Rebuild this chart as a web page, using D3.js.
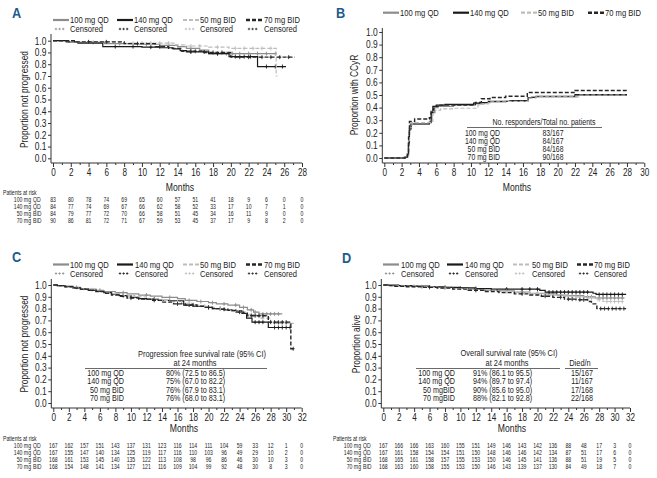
<!DOCTYPE html>
<html><head><meta charset="utf-8">
<script src="https://cdn.jsdelivr.net/npm/d3@7"></script>
<style>body{margin:0;background:#fff}svg{display:block}</style>
</head><body>
<script>
// ---------- DATA ----------
const seriesNames = ["100 mg QD","140 mg QD","50 mg BID","70 mg BID"];
const yTickVals = [0,0.1,0.2,0.3,0.4,0.5,0.6,0.7,0.8,0.9,1.0];

// Panel A: progression (0-28 months)
const kmA100t = [1.8, 3.0, 5.8, 9.0, 12.0, 14.0, 15.0, 16.5, 17.5];
const kmA100s = [0.99, 0.985, 0.975, 0.97, 0.96, 0.95, 0.935, 0.92, 0.89];
const kmA100c = [4.5, 7.5, 10.5, 13.0, 15.5, 18.5, 19.5, 20.2, 21.0, 22.0, 23.0, 24.0, 25.0];
const kmA140t = [1.5, 2.8, 5.6, 10.0, 12.0, 13.5, 14.3, 15.0, 17.5, 19.8, 23.0];
const kmA140s = [0.99, 0.98, 0.95, 0.945, 0.94, 0.93, 0.915, 0.905, 0.89, 0.865, 0.78];
const kmA140c = [7.0, 9.0, 11.0, 15.5, 17.0, 18.5, 20.5, 21.5, 22.2, 24.0, 25.0, 25.8];
const kmA50t = [2.0, 8.0, 13.8, 14.8, 17.5, 19.8, 25.1];
const kmA50s = [0.99, 0.98, 0.965, 0.955, 0.945, 0.935, 0.70];
const kmA50c = [4.0, 6.0, 9.0, 10.0, 11.0, 12.0, 13.0, 15.5, 16.5, 18.5, 20.5, 21.5, 22.5, 23.5, 24.5];
const kmA70t = [2.5, 8.0, 11.5, 13.0, 14.5, 17.0, 20.0];
const kmA70s = [0.99, 0.975, 0.95, 0.935, 0.91, 0.90, 0.86];
const kmA70c = [4.0, 6.0, 9.5, 12.0, 15.5, 16.0, 18.0, 19.0, 21.0, 22.0, 23.5, 24.5, 25.5, 26.5];
const kmAEnd = [25.2, 26.2, 25.25, 27.2];

// Panel B: cumulative CCyR (0-30 months)
const ciB100t = [2.3, 2.6, 2.75, 2.85, 3.0, 5.2, 5.5, 5.8, 6.2, 8.0, 10.5, 11.5, 12.2, 14.0, 16.6, 17.0, 22.2];
const ciB100s = [0.006, 0.02, 0.10, 0.22, 0.27, 0.29, 0.36, 0.40, 0.41, 0.42, 0.43, 0.44, 0.445, 0.45, 0.475, 0.485, 0.497];
const ciB140t = [2.4, 2.7, 2.8, 2.9, 3.1, 5.2, 5.4, 5.6, 6.0, 7.0, 10.3, 11.0, 12.0, 14.5, 16.6, 17.5, 22.0];
const ciB140s = [0.006, 0.02, 0.12, 0.23, 0.27, 0.28, 0.36, 0.41, 0.42, 0.425, 0.435, 0.44, 0.45, 0.455, 0.48, 0.49, 0.503];
const ciB50t = [2.2, 2.6, 2.75, 2.9, 3.2, 5.3, 5.6, 5.9, 6.5, 8.0, 10.8, 11.2, 12.0, 14.0, 16.6, 17.5, 22.5];
const ciB50s = [0.006, 0.02, 0.12, 0.24, 0.28, 0.29, 0.35, 0.38, 0.39, 0.395, 0.42, 0.43, 0.445, 0.45, 0.475, 0.485, 0.50];
const ciB70t = [2.4, 2.65, 2.8, 2.9, 3.5, 5.2, 5.4, 5.7, 6.2, 10.5, 11.2, 12.2, 14.0, 16.5, 22.0];
const ciB70s = [0.006, 0.03, 0.18, 0.29, 0.31, 0.32, 0.38, 0.41, 0.42, 0.44, 0.47, 0.48, 0.49, 0.52, 0.536];
const ciBEnd = [28, 28, 28, 28];

// Panel C: progression-free (0-32 months)
const kmC100t = [0.5,1.5,2.5,3.5,4.5,5.5,6.5,8,9.5,11,12.5,14,16,17,18.5,20,21,22.5,24,25,25.8,26.5];
const kmC100s = [0.995,0.99,0.98,0.97,0.965,0.955,0.945,0.935,0.925,0.915,0.905,0.895,0.885,0.87,0.86,0.85,0.84,0.83,0.81,0.79,0.77,0.755];
const kmC100c = [3,6,9,12,15,17.5,19,20.5,22,23.5,24.5,25.5,26,27,27.5,28,28.5,29];
const kmC140t = [0.5,1.5,2.5,3.5,4.5,5.5,6.5,7.5,8.5,10,11,12,13.5,15,16.8,18,19.5,20.5,22,23,24.3,24.9,25.6,27.7];
const kmC140s = [0.995,0.985,0.975,0.965,0.955,0.945,0.935,0.92,0.91,0.895,0.885,0.88,0.87,0.865,0.83,0.82,0.81,0.80,0.79,0.78,0.76,0.72,0.685,0.64];
const kmC140c = [9,13,17.5,20,21.5,23.5,26,26.5,27,28.5,29,29.5,30,30.5];
const kmC50t = [0.5,1.5,2.5,3.5,4.5,5.5,6.5,7.5,9,10.5,12,13.5,15,16.5,18,19,20,21,22,23,24,25,26.5,28];
const kmC50s = [0.995,0.99,0.98,0.97,0.96,0.95,0.935,0.925,0.91,0.90,0.885,0.87,0.86,0.845,0.83,0.82,0.81,0.80,0.79,0.78,0.77,0.75,0.72,0.675];
const kmC50c = [5,8,11,14,16,17.5,19.5,21.5,23.5,24.5,25.5,26,27,28.5,29,29.5,30,30.5];
const kmC70t = [0.5,1.5,2.5,3.5,4.5,5.5,6.5,7.5,8.5,9.5,11,12.5,14,15.5,17,18.5,19.5,20.5,21.5,22.5,23.5,24.5,25,27.7,30.6];
const kmC70s = [0.995,0.985,0.975,0.965,0.955,0.945,0.93,0.915,0.905,0.89,0.88,0.87,0.855,0.84,0.83,0.82,0.81,0.80,0.795,0.785,0.77,0.76,0.74,0.685,0.46];
const kmC70c = [10,13,16,18,20,22,24,25.5,26,26.5,27,28,28.5,29,29.5,30,30.9];
const kmCEnd = [29.5, 30.6, 31.0, 31.0];

// Panel D: overall survival (0-32 months)
const kmD100t = [1,3,5,7,9,11,13,15,17,19,21,22.5,24,26,27.5];
const kmD100s = [0.995,0.99,0.985,0.98,0.975,0.965,0.955,0.95,0.94,0.93,0.925,0.915,0.91,0.90,0.89];
const kmD100c = [5,10,15,18,20,22,23,24,24.5,25,25.5,26.5,27,28,28.5,29,29.5,30,30.5,31];
const kmD140t = [2,4,6,8,10,12,14,20.3,21,27.2,27.6];
const kmD140s = [0.995,0.99,0.985,0.98,0.975,0.97,0.965,0.955,0.94,0.93,0.92];
const kmD140c = [8,12,16,18,19,20,21.5,22,22.5,23,23.5,24,24.5,25,25.5,26,26.5,28,28.5,29,29.5,30,30.5,31];
const kmD50t = [1,3,5,7,9,11,13,15,17,19,21,23,24.5,26,27.5,28.5];
const kmD50s = [0.995,0.99,0.985,0.975,0.97,0.96,0.955,0.945,0.935,0.925,0.915,0.905,0.90,0.89,0.875,0.86];
const kmD50c = [4,8,12,16,20,22,23.5,24,25,25.5,26.5,27,28,29,29.5,30,30.5,31];
const kmD70t = [0.5,1.5,3,5,7,9,11,13,15,17,19,20.5,22,23.5,25,26.5,27,27.7];
const kmD70s = [0.995,0.99,0.985,0.98,0.975,0.965,0.955,0.945,0.935,0.925,0.915,0.905,0.895,0.88,0.875,0.86,0.84,0.80];
const kmD70c = [6,12,18,21,23,24,24.5,25.5,26,28.2,28.7,29.2,29.7,30.2,30.7,31.2];
const kmDEnd = [31.3, 31.5, 31.3, 31.5];

// Patients at risk
const riskLabels = [["100 mg","QD"],["140 mg","QD"],["50 mg","BID"],["70 mg","BID"]];
const riskA = [
  [83,80,78,74,69,65,60,57,51,41,18,9,6,0,0],
  [84,77,74,69,67,66,62,58,52,33,17,10,7,1,0],
  [84,79,77,72,70,66,58,51,45,34,16,11,9,0,0],
  [90,86,81,72,71,67,59,53,45,37,17,9,8,2,0]];
const riskC = [
  [167,162,157,151,143,137,131,123,116,114,111,104,59,33,12,1,0],
  [167,155,147,140,134,125,119,117,116,110,103,96,49,29,10,2,0],
  [168,161,153,145,140,135,122,113,108,98,96,86,46,30,10,3,0],
  [168,154,148,141,134,127,121,116,109,104,99,92,48,30,8,3,0]];
const riskD = [
  [167,166,166,163,160,155,151,149,146,143,142,136,88,48,17,3,0],
  [167,161,158,154,154,151,150,148,146,146,142,134,87,51,17,6,0],
  [168,165,161,158,157,155,153,150,146,145,141,136,88,51,19,5,0],
  [168,163,160,158,155,153,150,146,143,139,137,130,84,49,18,7,0]];

// Inset tables
const tableLabelsBC = ["100 mg  QD","140 mg  QD","50 mg BID","70 mg BID"];
const tableLabelsD = ["100 mg QD","140 mg QD","50 mgBID","70 mgBID"];
const responders = ["83/167","84/167","84/168","90/168"];
const pfsRates = ["80% (72.5 to 86.5)","75% (67.0 to 82.2)","76% (67.9 to 83.1)","76% (68.0 to 83.1)"];
const osRates = ["91% (86.1 to 95.5)","94% (89.7 to 97.4)","90% (85.6 to 95.0)","88% (82.1 to 92.8)"];
const diedN = ["15/167","11/167","17/168","22/168"];

// ---------- STYLE ----------
const FONT = "'Liberation Sans',Arial,sans-serif";
const SX = 0.8;  // horizontal condensing to mimic a narrow face
const styles = [
  {color:"#8c8c8c", dash:null, w:1.2, lw:2.2},
  {color:"#1a1a1a", dash:null, w:1.2, lw:2.2},
  {color:"#bdbdbd", dash:"4,2", w:1.2, lw:2.2},
  {color:"#262626", dash:"4,2", w:1.4, lw:2.6}
];
const letterColor = "#1d5b8b";

const svg = d3.select("body").append("svg").attr("width",657).attr("height",478)
  .attr("font-family",FONT);

function stepAt(times, vals, start, t){
  let v = start;
  for(let i=0;i<times.length;i++){ if(times[i]<=t) v=vals[i]; }
  return v;
}

function text(g,x,y,s,size,anchor,fill,sx){
  return g.append("text").attr("transform",`translate(${x},${y}) scale(${sx||SX},1)`).attr("font-size",size)
    .attr("text-anchor",anchor||"start").attr("fill",fill||"#222").text(s);
}

function drawPanel(o){
  const g = svg.append("g");
  const x = d3.scaleLinear().domain([0,o.xmax]).range([o.x0,o.x1]);
  const y = d3.scaleLinear().domain([0,1]).range([o.y0,o.y1]);
  const ax = o.x0 - 2;
  // letter
  text(g,o.letterX,o.letterY,o.letter,15,"start",letterColor,0.85).attr("font-weight","bold");
  // y axis
  const ya = d3.axisLeft(y).tickValues(yTickVals).tickFormat(d3.format(".1f")).tickSize(3).tickPadding(1.5);
  const yg = g.append("g").attr("transform",`translate(${ax},0)`).call(ya);
  yg.select(".domain").remove();
  yg.attr("font-family",FONT).attr("font-size",10.5);
  yg.selectAll("line").attr("stroke","#333");
  yg.selectAll("text").attr("fill","#222").attr("x",null).attr("transform",`translate(-4.5,0) scale(${SX},1)`);
  g.append("line").attr("x1",ax).attr("x2",ax).attr("y1",o.yTop).attr("y2",o.axisY).attr("stroke","#333");
  // x axis
  const xa = d3.axisBottom(x).tickValues(d3.range(0,o.xmax+1,2)).tickFormat(d3.format("d")).tickSize(4).tickPadding(2);
  const xg = g.append("g").attr("transform",`translate(0,${o.axisY})`).call(xa);
  xg.select(".domain").remove();
  xg.attr("font-family",FONT).attr("font-size",10.2);
  xg.selectAll("line").attr("stroke","#333");
  xg.selectAll("text").attr("fill","#222").attr("transform",`scale(${SX},1)`);
  const xm = d3.axisBottom(x).tickValues(d3.range(1,o.xmax,2)).tickFormat("").tickSize(2);
  const xmg = g.append("g").attr("transform",`translate(0,${o.axisY})`).call(xm);
  xmg.select(".domain").remove();
  xmg.selectAll("line").attr("stroke","#333");
  g.append("line").attr("x1",ax).attr("x2",x(o.xmax)).attr("y1",o.axisY).attr("y2",o.axisY).attr("stroke","#333");
  text(g,o.monthsX,o.monthsY,"Months",10.8,"middle");
  // y title
  g.append("text").attr("transform",`translate(${o.titleX},${(o.y0+o.y1)/2}) rotate(-90) scale(${SX},1)`)
    .attr("text-anchor","middle").attr("font-size",10.5).attr("fill","#222").text(o.yTitle);
  // curves
  const line = d3.line().x(d=>x(d[0])).y(d=>y(d[1])).curve(d3.curveStepAfter);
  o.series.forEach((s,i)=>{
    const st = styles[i];
    const pts = [[0,o.start]];
    s.t.forEach((t,k)=>pts.push([t,s.v[k]]));
    pts.push([s.end, s.v[s.v.length-1]]);
    g.append("path").attr("d",line(pts)).attr("fill","none").attr("stroke",st.color)
      .attr("stroke-width",st.w).attr("stroke-dasharray",st.dash);
    (s.c||[]).forEach(c=>{
      const cx = x(c), cy = y(stepAt(s.t,s.v,o.start,c));
      g.append("path").attr("d",`M${cx-1.5},${cy}h3M${cx},${cy-2}v4`).attr("stroke",st.color).attr("stroke-width",0.9).attr("fill","none");
    });
  });
  // legend
  const L = o.legend;
  seriesNames.forEach((nm,i)=>{
    const st = styles[i];
    g.append("line").attr("x1",L.l0[i]).attr("x2",L.l0[i]+16).attr("y1",L.y1).attr("y2",L.y1)
      .attr("stroke",st.color).attr("stroke-width",st.lw).attr("stroke-dasharray",st.dash);
    text(g,L.t[i],L.y1+3.3,nm,9.5);
    if(L.y2){
      for(let k=0;k<3;k++){
        const px = L.l0[i]+3+k*3.6, py=L.y2;
        g.append("path").attr("d",`M${px-1.2},${py}h2.4M${px},${py-1.2}v2.4`).attr("stroke",st.color).attr("stroke-width",0.8);
      }
      text(g,L.t[i],L.y2+3.3,"Censored",9.5);
    }
  });
  // risk table
  if(o.risk){
    text(g,o.riskX,o.riskY0,"Patients at risk",6.6,"start","#222",0.78);
    o.risk.forEach((row,r)=>{
      const yy = o.riskY0 + 7*(r+1);
      text(g,o.riskX+28,yy,riskLabels[r][0],6.6,"end","#222",0.78);
      text(g,o.riskX+30,yy,riskLabels[r][1],6.6,"start","#222",0.78);
      row.forEach((v,k)=>text(g,x(2*k),yy,v,6.6,"middle","#222",0.78));
    });
  }
  return {g,x,y};
}

// Panel A
drawPanel({letter:"A",letterX:12,letterY:18,x0:53,x1:302,xmax:28,y0:158.3,y1:40.7,yTop:34,axisY:163,
  monthsX:180,monthsY:190.5,titleX:28,yTitle:"Proportion not progressed",start:1,
  series:[{t:kmA100t,v:kmA100s,c:kmA100c,end:kmAEnd[0]},{t:kmA140t,v:kmA140s,c:kmA140c,end:kmAEnd[1]},
          {t:kmA50t,v:kmA50s,c:kmA50c,end:kmAEnd[2]},{t:kmA70t,v:kmA70s,c:kmA70c,end:kmAEnd[3]}],
  legend:{l0:[53,117,183,246],t:[70,134,200,264],y1:20,y2:29},
  risk:riskA,riskX:3,riskY0:195});

// Panel B
const pB = drawPanel({letter:"B",letterX:336,letterY:18,x0:384.3,x1:644.3,xmax:30,y0:158,y1:32,yTop:28,axisY:163,
  monthsX:517,monthsY:190.5,titleX:358,yTitle:"Proportion with CCyR",start:0,
  series:[{t:ciB100t,v:ciB100s,end:ciBEnd[0]},{t:ciB140t,v:ciB140s,end:ciBEnd[1]},
          {t:ciB50t,v:ciB50s,end:ciBEnd[2]},{t:ciB70t,v:ciB70s,end:ciBEnd[3]}],
  legend:{l0:[383,453,521,588],t:[400,470,538,605],y1:12.7,y2:null}});
{
  const g = pB.g;
  text(g,544,124.5,"No. responders/Total no. patients",8.8,"middle");
  g.append("line").attr("x1",467).attr("x2",602).attr("y1",127.5).attr("y2",127.5).attr("stroke","#444").attr("stroke-width",0.8);
  tableLabelsBC.forEach((l,i)=>{
    const yy = 135.5 + 8*i;
    text(g,500,yy,l,8.6,"end");
    text(g,553,yy,responders[i],8.6,"middle");
  });
}

// Panel C
const pC = drawPanel({letter:"C",letterX:12,letterY:262,x0:53.3,x1:301.7,xmax:32,y0:403,y1:285,yTop:279,axisY:408,
  monthsX:184,monthsY:432,titleX:28,yTitle:"Proportion not progressed",start:1,
  series:[{t:kmC100t,v:kmC100s,c:kmC100c,end:kmCEnd[0]},{t:kmC140t,v:kmC140s,c:kmC140c,end:kmCEnd[1]},
          {t:kmC50t,v:kmC50s,c:kmC50c,end:kmCEnd[2]},{t:kmC70t,v:kmC70s,c:kmC70c,end:kmCEnd[3]}],
  legend:{l0:[53,117,183,246],t:[70,135,200,264],y1:264.5,y2:273.5},
  risk:riskC,riskX:3,riskY0:440.5});
{
  const g = pC.g;
  text(g,202,357,"Progression free survival rate (95% CI)",9.3,"middle");
  text(g,195,366,"at 24 months",9.3,"middle");
  g.append("line").attr("x1",85).attr("x2",267).attr("y1",368.5).attr("y2",368.5).attr("stroke","#444").attr("stroke-width",0.8);
  tableLabelsBC.forEach((l,i)=>{
    const yy = 375.5 + 8.6*i;
    text(g,124,yy,l,9,"end");
    text(g,166,yy,pfsRates[i],9,"start");
  });
}

// Panel D
const pD = drawPanel({letter:"D",letterX:342,letterY:263,x0:383.3,x1:630,xmax:32,y0:403,y1:285,yTop:279,axisY:408,
  monthsX:512,monthsY:432,titleX:360,yTitle:"Proportion alive",start:1,
  series:[{t:kmD100t,v:kmD100s,c:kmD100c,end:kmDEnd[0]},{t:kmD140t,v:kmD140s,c:kmD140c,end:kmDEnd[1]},
          {t:kmD50t,v:kmD50s,c:kmD50c,end:kmDEnd[2]},{t:kmD70t,v:kmD70s,c:kmD70c,end:kmDEnd[3]}],
  legend:{l0:[383,447,513,577],t:[401,465,532,594],y1:264.5,y2:273.5},
  risk:riskD,riskX:333,riskY0:440.5});
{
  const g = pD.g;
  text(g,509,356,"Overall survival rate (95% CI)",9.3,"middle");
  text(g,507,365.5,"at 24 months",9.3,"middle");
  text(g,580,365.5,"Died/n",9.3,"middle");
  g.append("line").attr("x1",416).attr("x2",560).attr("y1",368.5).attr("y2",368.5).attr("stroke","#444").attr("stroke-width",0.8);
  g.append("line").attr("x1",565).attr("x2",598).attr("y1",368.5).attr("y2",368.5).attr("stroke","#444").attr("stroke-width",0.8);
  tableLabelsD.forEach((l,i)=>{
    const yy = 375.5 + 8.6*i;
    text(g,455,yy,l,9,"end");
    text(g,473,yy,osRates[i],9,"start");
    text(g,582,yy,diedN[i],9,"middle");
  });
}
</script>
</body></html>
